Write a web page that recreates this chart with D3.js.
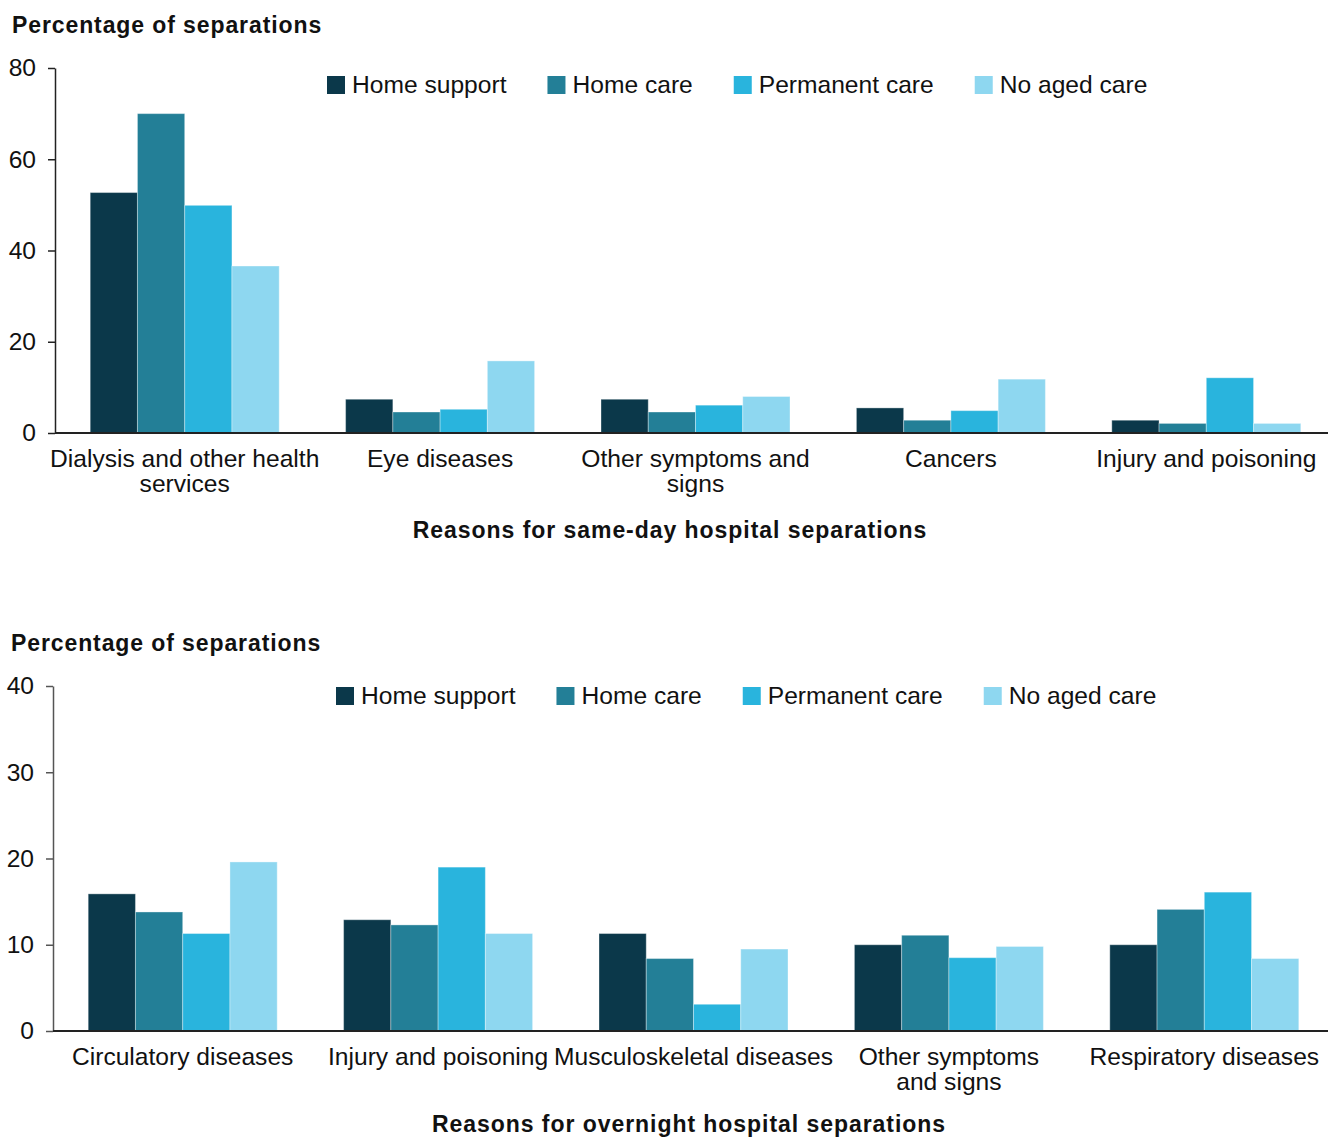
<!DOCTYPE html>
<html>
<head>
<meta charset="utf-8">
<script src="https://cdn.jsdelivr.net/npm/d3@7"></script>
<style>
  html, body { margin: 0; padding: 0; background: #fff; }
  svg { display: block; font-family: "Liberation Sans", Arial, sans-serif; }
</style>
</head>
<body>
<svg id="chart" width="1328" height="1137"></svg>
<script>
// Series shared by both panels
const seriesNames = ["Home support", "Home care", "Permanent care", "No aged care"];
const seriesColors = ["#0b384a", "#237f97", "#29b4dd", "#8ed7f0"];

// Same-day separations (per cent)
const sameDayCategories = ["Dialysis and other health\nservices", "Eye diseases", "Other symptoms and\nsigns", "Cancers", "Injury and poisoning"];
const sameDayHomeSupport = [52.7, 7.4, 7.4, 5.5, 2.8];
const sameDayHomeCare = [70.0, 4.6, 4.6, 2.8, 2.1];
const sameDayPermanentCare = [49.9, 5.2, 6.1, 4.9, 12.1];
const sameDayNoAgedCare = [36.6, 15.8, 8.0, 11.8, 2.1];
const sameDayTicks = [0, 20, 40, 60, 80];

// Overnight separations (per cent)
const overnightCategories = ["Circulatory diseases", "Injury and poisoning", "Musculoskeletal diseases", "Other symptoms\nand signs", "Respiratory diseases"];
const overnightHomeSupport = [15.9, 12.9, 11.3, 10.0, 10.0];
const overnightHomeCare = [13.8, 12.3, 8.4, 11.1, 14.1];
const overnightPermanentCare = [11.3, 19.0, 3.1, 8.5, 16.1];
const overnightNoAgedCare = [19.6, 11.3, 9.5, 9.8, 8.4];
const overnightTicks = [0, 10, 20, 30, 40];

const svg = d3.select("#chart");
const FONT = 24.6;

function drawPanel(opts) {
  const g = svg.append("g");
  const values = [opts.hs, opts.hc, opts.pc, opts.nac];

  const y = d3.scaleLinear()
    .domain([0, d3.max(opts.ticks)])
    .range([opts.bottom, opts.top]);

  const x0 = d3.scaleBand()
    .domain(opts.categories)
    .range([opts.axisX + 2, opts.axisX + 2 + 5 * 255.4])
    .paddingInner(0.26)
    .paddingOuter(0.13);

  const x1 = d3.scaleBand()
    .domain(seriesNames)
    .range([0, x0.bandwidth()]);

  // Panel title
  g.append("text")
    .attr("x", opts.titleX)
    .attr("y", opts.titleY)
    .attr("font-size", 23)
    .attr("font-weight", "bold")
    .attr("letter-spacing", 0.9)
    .attr("fill", "#111")
    .text("Percentage of separations");

  // Bars
  const groups = g.append("g").selectAll("g")
    .data(opts.categories)
    .join("g")
    .attr("transform", d => `translate(${x0(d)},0)`);

  groups.selectAll("rect")
    .data((d, i) => seriesNames.map((s, k) => ({ series: s, value: values[k][i], k })))
    .join("rect")
    .attr("x", d => x1(d.series))
    .attr("width", x1.bandwidth())
    .attr("y", d => y(d.value))
    .attr("height", d => y(0) - y(d.value))
    .attr("fill", d => seriesColors[d.k])
    .attr("stroke", "#ffffff")
    .attr("stroke-opacity", 0.35)
    .attr("stroke-width", 1);

  // Y axis
  const yAxis = g.append("g")
    .attr("transform", `translate(${opts.axisX},0)`)
    .call(d3.axisLeft(y).tickValues(opts.ticks).tickSize(7).tickSizeOuter(0).tickPadding(12));
  yAxis.select(".domain").attr("stroke", opts.axisColor).attr("stroke-width", 1.5);
  yAxis.selectAll(".tick line").attr("stroke", opts.axisColor).attr("stroke-width", 1.5);
  yAxis.selectAll(".tick text")
    .attr("font-size", FONT)
    .attr("font-family", "Liberation Sans, Arial, sans-serif")
    .attr("fill", "#111");

  // X baseline
  g.append("line")
    .attr("x1", opts.axisX)
    .attr("x2", 1328)
    .attr("y1", y(0))
    .attr("y2", y(0))
    .attr("stroke", "#222")
    .attr("stroke-width", 2);

  // Category labels
  const labels = g.append("g").selectAll("text")
    .data(opts.categories)
    .join("text")
    .attr("text-anchor", "middle")
    .attr("font-size", FONT)
    .attr("fill", "#111")
    .attr("x", d => x0(d) + x0.bandwidth() / 2)
    .attr("y", y(0) + 34);
  labels.selectAll("tspan")
    .data(d => d.split("\n"))
    .join("tspan")
    .attr("x", function () { return d3.select(this.parentNode).attr("x"); })
    .attr("dy", (d, i) => i === 0 ? 0 : 25)
    .text(d => d);

  // X axis title
  g.append("text")
    .attr("x", opts.xTitleX)
    .attr("y", opts.xTitleY)
    .attr("text-anchor", "middle")
    .attr("font-size", 23)
    .attr("font-weight", "bold")
    .attr("letter-spacing", 0.95)
    .attr("fill", "#111")
    .text(opts.xTitle);

  // Legend
  const legend = g.append("g").attr("transform", `translate(${opts.legendX},${opts.legendY})`);
  let cx = 0;
  seriesNames.forEach((name, k) => {
    const item = legend.append("g").attr("transform", `translate(${cx},0)`);
    item.append("rect")
      .attr("x", 0).attr("y", -9)
      .attr("width", 18).attr("height", 18)
      .attr("fill", seriesColors[k]);
    const t = item.append("text")
      .attr("x", 25).attr("y", 8)
      .attr("font-size", FONT)
      .attr("fill", "#111")
      .text(name);
    cx += 25 + t.node().getComputedTextLength() + 41;
  });
}

drawPanel({
  categories: sameDayCategories,
  hs: sameDayHomeSupport, hc: sameDayHomeCare, pc: sameDayPermanentCare, nac: sameDayNoAgedCare,
  ticks: sameDayTicks,
  top: 68, bottom: 433, axisX: 55,
  axisColor: "#222",
  titleX: 12, titleY: 33,
  xTitle: "Reasons for same-day hospital separations", xTitleX: 670, xTitleY: 538,
  legendX: 327, legendY: 85
});

drawPanel({
  categories: overnightCategories,
  hs: overnightHomeSupport, hc: overnightHomeCare, pc: overnightPermanentCare, nac: overnightNoAgedCare,
  ticks: overnightTicks,
  top: 686, bottom: 1031, axisX: 53,
  axisColor: "#555",
  titleX: 11, titleY: 651,
  xTitle: "Reasons for overnight hospital separations", xTitleX: 689, xTitleY: 1132,
  legendX: 336, legendY: 696
});
</script>
</body>
</html>
